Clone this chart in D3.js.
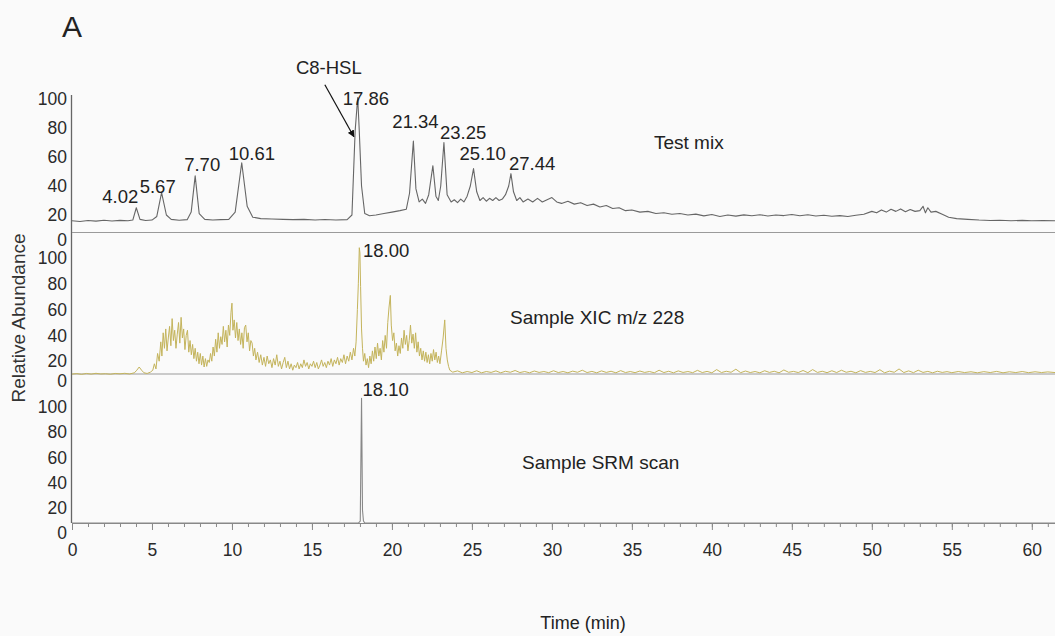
<!DOCTYPE html>
<html>
<head>
<meta charset="utf-8">
<script src="https://cdn.jsdelivr.net/npm/d3@7"></script>
<style>
  html, body { margin: 0; padding: 0; background: #fafafa; }
  svg { display: block; font-family: "Liberation Sans", Arial, sans-serif; }
</style>
</head>
<body>
<div id="chart"></div>
<script>
// chromatogram traces, [time (min), relative abundance]
const testMix = [
  [0,16],[0.5,15.5],[1,16.2],[1.5,15.8],[2,16.4],[2.5,15.9],[3,16.3],[3.5,16],[3.8,16.5],[4.02,25],[4.25,17],
  [4.6,16.2],[5.0,16.5],[5.3,19],[5.6,35.5],[5.9,20],[6.2,17],[6.7,16.4],[7.2,16.8],[7.45,22],[7.7,47],[7.95,21],
  [8.3,17],[8.8,16.6],[9.3,16.8],[9.8,17],[10.2,22],[10.61,56],[10.95,26],[11.3,18.5],[11.8,17.5],[12.5,17.2],
  [13.2,17],[13.8,16.8],[14.5,17],[15.2,16.6],[15.8,16.9],[16.5,16.6],[17.2,16.8],[17.5,20],[17.7,78],[17.86,101],
  [17.95,80],[18.1,40],[18.3,21],[18.6,19.5],[19,20],[19.5,21],[20,22],[20.5,23],[20.9,24],[21.1,35],[21.34,71],
  [21.5,38],[21.7,29],[21.9,31],[22.1,28],[22.3,34],[22.56,54],[22.75,33],[22.9,30],[23.05,40],[23.25,70],[23.45,34],
  [23.7,29],[23.9,30.5],[24.1,28.5],[24.3,31],[24.5,29],[24.7,33],[24.9,40],[25.1,52],[25.3,36],[25.5,30],[25.7,32],
  [25.9,29.5],[26.1,31.5],[26.3,30],[26.5,32],[26.7,30],[26.9,31],[27.1,34],[27.3,40],[27.44,48.5],[27.6,36],[27.8,30],
  [28,32],[28.2,29],[28.5,31],[28.8,29],[29.1,31.5],[29.4,29],[29.7,30.5],[30,32],[30.3,29],[30.6,28],[31,29.5],
  [31.4,27.5],[31.8,28.5],[32.2,26.5],[32.6,27.5],[33,25.5],[33.4,26.5],[33.8,24.5],[34.2,25],[34.6,23],[35,23.5],
  [35.5,22],[36,22.5],[36.5,21],[37,21.5],[37.5,20.5],[38,21],[38.5,20],[39,20.6],[39.5,19.4],[40,20.3],[40.5,19],
  [41,20],[41.5,19.2],[42,20.1],[42.5,19.5],[43,20.2],[43.5,19.3],[44,20],[44.5,19.6],[45,20.4],[45.5,19.5],[46,20.2],
  [46.5,19.3],[47,19.8],[47.5,19.1],[48,19.6],[48.5,19],[49,19.8],[49.5,20.5],[50,22.5],[50.3,21.5],[50.6,23.5],
  [50.9,22],[51.2,24],[51.5,22.5],[51.8,24.2],[52.1,22.2],[52.4,23.8],[52.7,22.5],[53,23],[53.2,26],[53.35,21.5],
  [53.5,25],[53.7,22],[54,22.5],[54.4,20.5],[54.8,18.5],[55.3,17.5],[56,17],[56.7,16.5],[57.4,16.2],[58,16.4],
  [58.7,16],[59.4,16.3],[60,16],[60.7,16.2],[61.45,16]
];

const sampleXic = [
  [0,10],[0.3,10.4],[0.6,9.8],[0.9,10.5],[1.2,10],[1.5,10.6],[1.8,10.1],[2.1,10.3],[2.4,9.9],[2.7,10.5],[3.0,10.2],
  [3.3,10.6],[3.6,10.1],[3.9,11],[4.05,13],[4.2,15.5],[4.35,13],[4.5,11],[4.7,10.5],[4.9,11.5],[5.05,13],
  [5.15,18],[5.25,14],[5.35,26],[5.45,20],[5.55,35],[5.62,24],[5.7,42],[5.78,30],[5.86,45],[5.94,28],[6.02,38],
  [6.1,47],[6.18,32],[6.26,53],[6.34,36],[6.42,44],[6.5,30],[6.58,41],[6.66,50],[6.74,34],[6.82,54],[6.9,38],
  [6.98,45],[7.06,29],[7.14,40],[7.22,44],[7.3,27],[7.38,36],[7.46,25],[7.54,33],[7.62,22],[7.7,30],[7.78,20],
  [7.86,27],[7.94,18],[8.02,26],[8.1,17],[8.18,24],[8.26,15.5],[8.34,22],[8.42,16],[8.5,21],[8.58,19],[8.66,26],
  [8.74,20],[8.82,31],[8.9,24],[8.98,37],[9.06,27],[9.14,42],[9.22,30],[9.3,39],[9.38,33],[9.46,47],[9.54,35],
  [9.62,44],[9.7,31],[9.78,48],[9.86,40],[9.94,58],[10.0,65],[10.06,44],[10.14,52],[10.22,38],[10.3,50],[10.38,36],
  [10.46,45],[10.54,33],[10.62,42],[10.7,30],[10.78,46],[10.86,48],[10.94,35],[11.02,42],[11.1,28],[11.18,36],
  [11.26,34],[11.34,24],[11.42,30],[11.5,21],
  [11.6,27],[11.7,19],[11.8,25],[11.9,17],[12.0,23],[12.1,16],[12.2,24],[12.3,18],[12.4,21],[12.5,15],[12.6,22],
  [12.7,17],[12.8,25],[12.9,16],[13.0,20],[13.1,14],[13.2,19],[13.3,23],[13.4,15],[13.5,20],[13.6,14],[13.7,18],
  [13.8,13],[13.9,17],[14.0,15],[14.1,19],[14.2,14],[14.3,18],[14.4,15],[14.5,21],[14.6,16],[14.7,19],[14.8,14],
  [14.9,18],[15.0,16],[15.1,20],[15.2,15],[15.3,19],[15.4,14],[15.5,17],[15.6,21],[15.7,16],[15.8,19],[15.9,15],
  [16.0,20],[16.1,17],[16.2,22],[16.3,16],[16.4,21],[16.5,18],[16.6,23],[16.7,17],[16.8,22],[16.9,19],[17.0,25],
  [17.1,18],[17.2,24],[17.3,20],[17.4,27],[17.5,21],[17.6,30],[17.68,24],
  [17.76,35],[17.84,60],[17.9,80],[17.96,108],[18.0,104],[18.04,78],[18.1,45],[18.16,30],[18.22,20],
  [18.3,26],[18.38,17],[18.46,22],[18.54,15],[18.62,24],[18.7,18],[18.78,28],[18.86,20],[18.94,31],[19.02,22],
  [19.1,34],[19.18,24],[19.26,30],[19.34,21],[19.42,36],[19.5,27],[19.58,40],[19.66,30],[19.74,50],[19.82,62],
  [19.9,71],[19.96,48],[20.04,36],[20.12,42],[20.2,28],[20.28,34],[20.36,24],[20.44,32],[20.52,26],[20.6,38],
  [20.68,30],[20.76,44],[20.84,33],[20.92,40],[21.0,28],[21.08,36],[21.16,48],[21.24,34],[21.32,41],[21.4,30],
  [21.48,42],[21.56,27],[21.64,35],[21.72,24],[21.8,30],[21.88,21],[21.96,28],[22.04,20],[22.12,27],[22.2,19],
  [22.28,25],[22.36,18],[22.44,26],[22.52,20],[22.6,29],[22.68,21],[22.76,27],[22.84,19],[22.92,24],[23.0,18],
  [23.1,28],[23.2,38],[23.3,52],[23.38,30],[23.46,21],[23.54,16],[23.62,13],
  [23.8,11.5],[24.1,12.5],[24.4,11],[24.7,12],[25,11.2],[25.3,12.6],[25.6,11],[25.9,12],[26.2,11.3],[26.5,12.5],
  [26.8,11],[27.1,12.2],[27.4,11.4],[27.7,12.8],[28,11.2],[28.3,12],[28.6,11],[28.9,12.4],[29.2,11.3],[29.5,12],
  [29.8,11.1],[30.1,12.6],[30.4,11.2],[30.7,12],[31,11],[31.3,12.3],[31.6,11.4],[31.9,13],[32.2,11.2],[32.5,12.1],
  [32.8,11],[33.1,12.5],[33.4,11.3],[33.7,12.2],[34,11],[34.3,12.7],[34.6,11.2],[34.9,12],[35.2,11.1],[35.5,12.4],
  [35.8,11.3],[36.1,12],[36.4,11],[36.7,13],[37,11.2],[37.3,12.2],[37.6,11],[37.9,12.5],[38.2,11.3],[38.5,12],
  [38.8,11.1],[39.1,12.9],[39.4,11.2],[39.7,12.1],[40,11],[40.3,13.5],[40.6,11.2],[40.9,12.2],[41.2,11.4],[41.5,13.8],
  [41.8,11.1],[42.1,12.4],[42.4,11.2],[42.7,12],[43,11],[43.3,12.6],[43.6,11.3],[43.9,12.2],[44.2,11],[44.5,13.2],
  [44.8,11.4],[45.1,12.1],[45.4,11.2],[45.7,12.8],[46,11.1],[46.3,13.5],[46.6,11.3],[46.9,12.2],[47.2,11.1],[47.5,12.6],
  [47.8,11.2],[48.1,13],[48.4,11.4],[48.7,12.2],[49,11],[49.3,12.7],[49.6,11.3],[49.9,12.1],[50.2,11.2],[50.5,13.4],
  [50.8,11],[51.1,12.3],[51.4,11.4],[51.7,14],[52,11.2],[52.3,12.5],[52.6,11.1],[52.9,13],[53.2,11.3],[53.5,12.1],
  [53.8,11],[54.1,12.2],[54.4,11.3],[54.7,11.9],[55,11.1],[55.4,12],[55.8,11.2],[56.2,11.8],[56.6,11],[57,11.9],
  [57.4,11.2],[57.8,12.1],[58.2,11],[58.6,11.8],[59,11.2],[59.4,12],[59.8,11.1],[60.2,11.8],[60.6,11.2],[61,11.7],
  [61.45,11.2]
];

const sampleSrm = [
  [0,7.9],[17.9,7.9],[18.02,9.5],[18.1,107],[18.16,18],[18.22,9.5],[18.3,7.9],[61.45,7.9]
];

// peak labels
const mixPeakTimes = [4.02, 5.67, 7.70, 10.61, 17.86, 21.34, 23.25, 25.10, 27.44];
const mixPeakLabels = ["4.02", "5.67", "7.70", "10.61", "17.86", "21.34", "23.25", "25.10", "27.44"];
const xicPeakTimes = [18.00];
const xicPeakLabels = ["18.00"];
const srmPeakTimes = [18.10];
const srmPeakLabels = ["18.10"];

const panelTitles = ["Test mix", "Sample XIC m/z 228", "Sample SRM scan"];
const xTicks = [0, 5, 10, 15, 20, 25, 30, 35, 40, 45, 50, 55, 60];
const yTicks = [0, 20, 40, 60, 80, 100];

const width = 1055, height = 636;
const svg = d3.select("#chart").append("svg")
    .attr("width", width)
    .attr("height", height);

const x = d3.scaleLinear().domain([0, 61.45]).range([72, 1055]);

// one entry per stacked panel
const panels = [
  { data: testMix, y: d3.scaleLinear().domain([0, 100]).range([244, 99]), base: 232.5, zeroShift: -4,
    color: "#666", times: mixPeakTimes, labels: mixPeakLabels,
    nudge: [[-34,-11],[-23,-6],[-11,-11],[-13,-9],[-15,1],[-21,-20],[-4,-10],[-14,-15],[-2,-10]],
    title: panelTitles[0], titlePos: [654, 142] },
  { data: sampleXic, y: d3.scaleLinear().domain([0, 100]).range([387, 258]), base: 374, zeroShift: -6,
    color: "#c4b45c", times: xicPeakTimes, labels: xicPeakLabels, nudge: [[3, 3]],
    title: panelTitles[1], titlePos: [510, 317] },
  { data: sampleSrm, y: d3.scaleLinear().domain([0, 100]).range([533, 407]), base: 523, zeroShift: 0,
    color: "#888", times: srmPeakTimes, labels: srmPeakLabels, nudge: [[1, -9]],
    title: panelTitles[2], titlePos: [522, 462] }
];

// vertical axis line shared by all panels
svg.append("line")
    .attr("x1", x(0) - 0.5).attr("x2", x(0) - 0.5)
    .attr("y1", panels[0].y(100) - 4)
    .attr("y2", panels[2].base)
    .attr("stroke", "#666")
    .attr("stroke-width", 1.3);

panels.forEach((p, i) => {
    // baseline of the panel
    if (i < 2) {
        svg.append("line")
            .attr("x1", x.range()[0]).attr("x2", x.range()[1])
            .attr("y1", p.base).attr("y2", p.base)
            .attr("stroke", "#9a9a9a")
            .attr("stroke-width", 1);
    }

    // y axis labels
    const ya = svg.append("g")
        .attr("transform", `translate(${x(0) - 1},0)`)
        .call(d3.axisLeft(p.y).tickValues(yTicks).tickSize(0).tickPadding(4));
    ya.select(".domain").remove();
    ya.selectAll("text")
        .style("font-size", "17.5px")
        .style("font-family", "'Liberation Sans', Arial, sans-serif")
        .attr("fill", "#2a2a2a");
    ya.selectAll(".tick").filter(d => d === 0).select("text")
        .attr("transform", `translate(0,${p.zeroShift})`);

    // trace
    svg.append("path")
        .datum(p.data)
        .attr("fill", "none")
        .attr("stroke", p.color)
        .attr("stroke-width", i === 1 ? 1 : 1.1)
        .attr("stroke-linejoin", "round")
        .attr("d", d3.line().x(d => x(d[0])).y(d => p.y(d[1])));

    // peak labels
    p.times.forEach((t, j) => {
        const top = d3.max(p.data.filter(d => Math.abs(d[0] - t) < 0.15), d => d[1]);
        svg.append("text")
            .attr("x", x(t) + p.nudge[j][0])
            .attr("y", p.y(top) + p.nudge[j][1])
            .attr("dominant-baseline", "central")
            .style("font-size", "18.5px")
            .attr("fill", "#222")
            .text(p.labels[j]);
    });

    // panel title
    svg.append("text")
        .attr("x", p.titlePos[0])
        .attr("y", p.titlePos[1])
        .attr("dominant-baseline", "central")
        .style("font-size", "19px")
        .attr("fill", "#222")
        .text(p.title);
});

// x axis at the bottom panel
const bottom = panels[2];
const minor = svg.append("g")
    .attr("transform", `translate(0,${bottom.base})`)
    .call(d3.axisBottom(x).tickValues(d3.range(0, 62, 1)).tickSize(4).tickSizeOuter(0).tickFormat(""));
minor.selectAll("line").attr("stroke", "#888");
minor.select(".domain").attr("stroke", "#888");

const xa = svg.append("g")
    .attr("transform", `translate(0,${bottom.base})`)
    .call(d3.axisBottom(x).tickValues(xTicks).tickSize(7).tickSizeOuter(0).tickPadding(14));
xa.select(".domain").attr("stroke", "#888");
xa.selectAll("line").attr("stroke", "#888");
xa.selectAll("text")
    .style("font-size", "17.5px")
    .style("font-family", "'Liberation Sans', Arial, sans-serif")
    .attr("fill", "#2a2a2a");

// C8-HSL annotation arrow pointing at the shoulder of the 17.86 peak
svg.append("defs").append("marker")
    .attr("id", "arrow")
    .attr("viewBox", "0 0 10 10")
    .attr("refX", 9).attr("refY", 5)
    .attr("markerWidth", 7).attr("markerHeight", 7)
    .attr("markerUnits", "userSpaceOnUse")
    .attr("orient", "auto")
    .append("path")
    .attr("d", "M0,0 L10,5 L0,10 z")
    .attr("fill", "#111");

const tipX = x(17.62), tipY = panels[0].y(74);
svg.append("line")
    .attr("x1", tipX - 29).attr("y1", tipY - 52)
    .attr("x2", tipX).attr("y2", tipY)
    .attr("stroke", "#111")
    .attr("stroke-width", 1.2)
    .attr("marker-end", "url(#arrow)");
svg.append("text")
    .attr("x", tipX - 25)
    .attr("y", tipY - 69)
    .attr("text-anchor", "middle")
    .attr("dominant-baseline", "central")
    .style("font-size", "18.5px")
    .attr("fill", "#222")
    .text("C8-HSL");

// panel letter
svg.append("text")
    .attr("x", 62).attr("y", 37)
    .style("font-size", "30px")
    .attr("fill", "#222")
    .text("A");

// axis titles
svg.append("text")
    .attr("transform", "translate(25,318) rotate(-90)")
    .attr("text-anchor", "middle")
    .style("font-size", "19px")
    .attr("fill", "#333")
    .text("Relative Abundance");

svg.append("text")
    .attr("x", 583).attr("y", 629)
    .attr("text-anchor", "middle")
    .style("font-size", "18px")
    .attr("fill", "#222")
    .text("Time (min)");
</script>
</body>
</html>
